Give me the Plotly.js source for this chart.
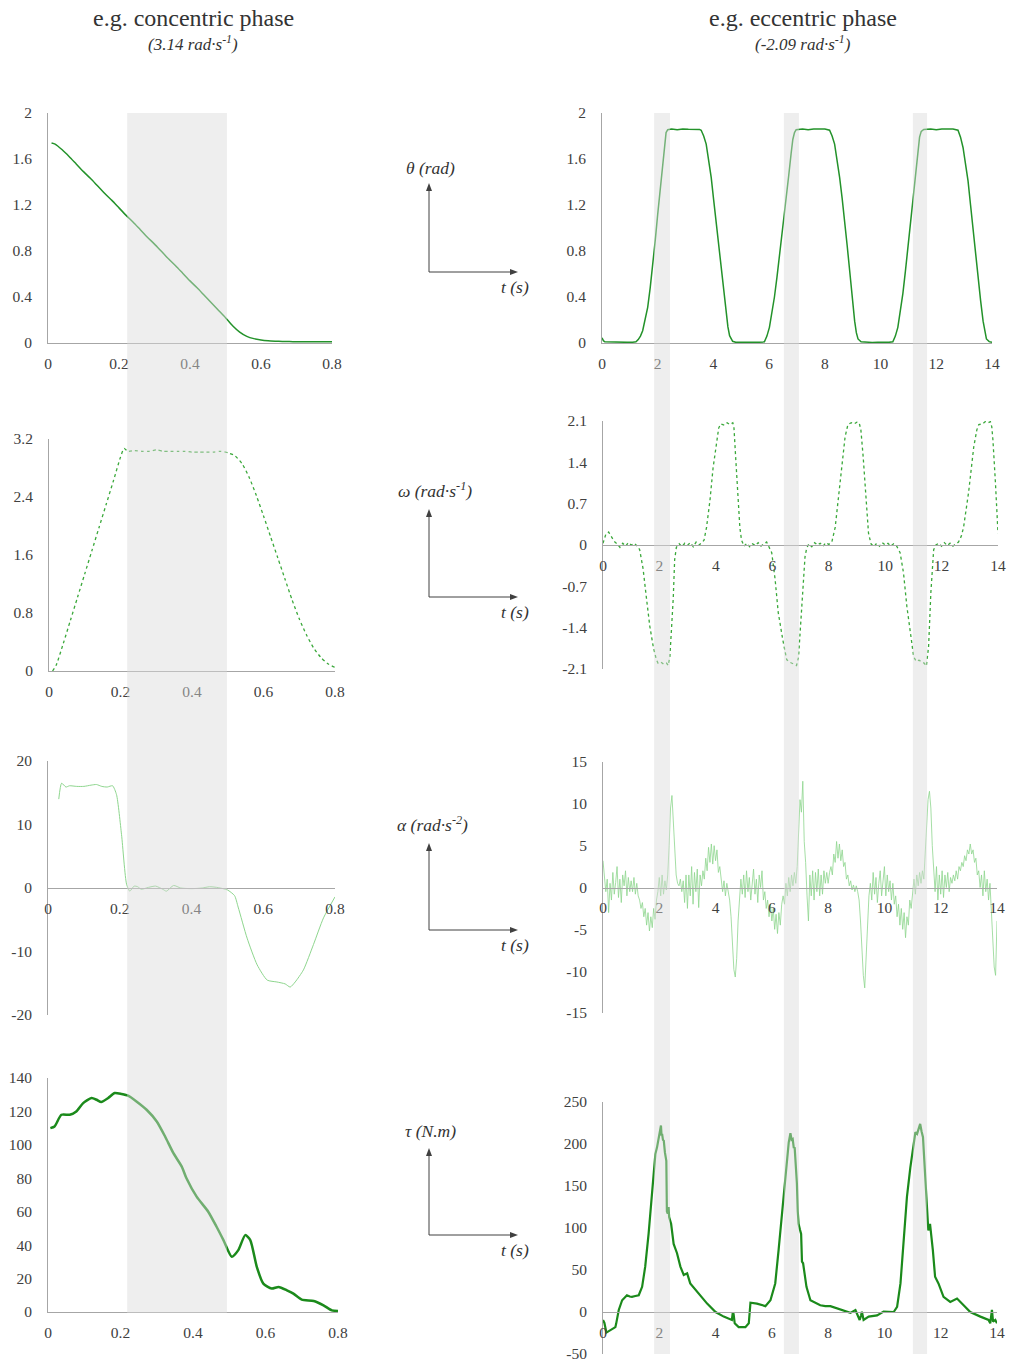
<!DOCTYPE html>
<html><head><meta charset="utf-8">
<script src="https://cdn.plot.ly/plotly-3.0.1.min.js"></script>
<style>html,body{margin:0;padding:0;background:#fff}#chart{width:1009px;height:1364px}</style>
</head><body><div id="chart"></div>
<script>
// ---------------- DATA ----------------
// concentric phase (t in s)
const thetaConc = [[0.01,1.74],[0.02,1.73],[0.04,1.68],[0.06,1.62],[0.08,1.555],[0.10,1.49],[0.12,1.43],[0.14,1.365],[0.16,1.30],[0.18,1.24],[0.20,1.175],[0.22,1.11],[0.24,1.05],[0.26,0.985],[0.28,0.92],[0.30,0.86],[0.32,0.795],[0.34,0.73],[0.36,0.67],[0.38,0.605],[0.40,0.54],[0.42,0.48],[0.44,0.415],[0.46,0.35],[0.48,0.285],[0.50,0.22],[0.52,0.15],[0.54,0.095],[0.56,0.058],[0.58,0.038],[0.60,0.027],[0.62,0.02],[0.64,0.016],[0.66,0.013],[0.68,0.012],[0.70,0.011],[0.72,0.011],[0.74,0.01],[0.76,0.01],[0.78,0.01],[0.80,0.011]];
const omegaConc = [[0.01,0.0],[0.02,0.08],[0.04,0.38],[0.06,0.7],[0.08,1.02],[0.10,1.34],[0.12,1.66],[0.14,1.98],[0.16,2.3],[0.18,2.62],[0.20,2.95],[0.21,3.07],[0.22,3.03],[0.24,3.04],[0.26,3.03],[0.28,3.03],[0.30,3.05],[0.32,3.03],[0.34,3.03],[0.36,3.03],[0.38,3.03],[0.40,3.02],[0.42,3.02],[0.44,3.02],[0.46,3.02],[0.48,3.03],[0.50,3.01],[0.52,2.97],[0.54,2.86],[0.56,2.67],[0.58,2.42],[0.60,2.14],[0.62,1.85],[0.64,1.56],[0.66,1.27],[0.68,0.98],[0.70,0.72],[0.72,0.5],[0.74,0.32],[0.76,0.19],[0.78,0.1],[0.80,0.05]];
const alphaConc = [[0.03,14.0],[0.038,16.5],[0.05,15.9],[0.06,16.1],[0.08,16.0],[0.10,16.0],[0.12,16.2],[0.135,16.3],[0.15,16.0],[0.165,15.9],[0.18,16.1],[0.191,14.7],[0.205,8.4],[0.219,0.6],[0.228,-0.5],[0.24,0.3],[0.25,0.2],[0.26,-0.2],[0.28,0.1],[0.30,0.3],[0.32,-0.2],[0.33,-0.5],[0.35,0.4],[0.37,0.0],[0.40,-0.1],[0.43,0.0],[0.45,0.2],[0.47,0.1],[0.50,-0.3],[0.52,-1.2],[0.53,-3.0],[0.555,-7.9],[0.583,-12.1],[0.611,-14.5],[0.638,-14.8],[0.661,-15.1],[0.675,-15.6],[0.689,-14.8],[0.712,-12.9],[0.74,-8.9],[0.768,-4.7],[0.80,-1.4]];
const torqueConc = [[0.0065,110],[0.018,111],[0.037,118],[0.06,118],[0.078,120],[0.097,125],[0.12,128],[0.134,127],[0.147,125.6],[0.166,128],[0.184,131],[0.203,130.4],[0.221,129.4],[0.244,126],[0.272,121],[0.30,114],[0.323,105],[0.346,95],[0.369,87],[0.382,80],[0.41,69],[0.442,60],[0.465,51],[0.484,43],[0.507,33],[0.525,37],[0.544,46],[0.558,43],[0.576,27],[0.594,17],[0.617,14],[0.636,15],[0.659,13],[0.677,11],[0.70,7.4],[0.733,6.6],[0.76,4],[0.783,1],[0.80,0.6]];

// eccentric phase (t in s)
const thetaEcc = [[0,0.045],[0.05,0.02],[0.1,0.01],[0.3,0.008],[0.5,0.006],[0.7,0.008],[0.9,0.006],[1.1,0.007],[1.22,0.01],[1.3,0.03],[1.38,0.06],[1.46,0.107],[1.55,0.2],[1.64,0.31],[1.73,0.48],[1.82,0.66],[1.91,0.89],[2.0,1.12],[2.09,1.34],[2.18,1.56],[2.24,1.72],[2.3,1.83],[2.36,1.855],[2.5,1.86],[2.7,1.855],[2.9,1.86],[3.1,1.858],[3.3,1.86],[3.5,1.857],[3.56,1.85],[3.65,1.8],[3.74,1.73],[3.83,1.6],[3.92,1.44],[4.01,1.24],[4.1,1.04],[4.19,0.84],[4.28,0.63],[4.37,0.44],[4.46,0.25],[4.52,0.14],[4.58,0.064],[4.64,0.03],[4.69,0.015],[4.8,0.006],[5.0,0.005],[5.2,0.006],[5.4,0.005],[5.6,0.006],[5.83,0.01],[5.92,0.06],[6.01,0.136],[6.1,0.26],[6.19,0.4],[6.28,0.57],[6.37,0.75],[6.49,1.0],[6.61,1.24],[6.7,1.45],[6.79,1.65],[6.85,1.77],[6.91,1.83],[6.97,1.855],[7.2,1.86],[7.4,1.855],[7.6,1.86],[7.8,1.857],[8.0,1.86],[8.17,1.85],[8.26,1.8],[8.35,1.73],[8.44,1.6],[8.53,1.44],[8.62,1.26],[8.71,1.07],[8.8,0.85],[8.89,0.63],[8.98,0.4],[9.07,0.19],[9.13,0.09],[9.19,0.035],[9.3,0.01],[9.5,0.006],[9.7,0.005],[9.9,0.006],[10.1,0.005],[10.3,0.006],[10.44,0.01],[10.53,0.06],[10.62,0.136],[10.71,0.27],[10.8,0.43],[10.89,0.62],[10.98,0.83],[11.07,1.05],[11.16,1.27],[11.25,1.48],[11.34,1.67],[11.4,1.79],[11.46,1.84],[11.55,1.857],[11.8,1.86],[12.0,1.855],[12.2,1.86],[12.4,1.857],[12.6,1.86],[12.78,1.85],[12.87,1.79],[12.96,1.7],[13.05,1.57],[13.14,1.41],[13.23,1.2],[13.32,0.98],[13.41,0.78],[13.5,0.57],[13.59,0.37],[13.68,0.19],[13.74,0.09],[13.8,0.035],[13.9,0.012],[14.0,0.006]];
const omegaEcc = [[0,0.03],[0.1,0.18],[0.2,0.22],[0.3,0.15],[0.4,0.06],[0.5,0.02],[0.6,-0.04],[0.7,0.03],[0.8,-0.02],[0.9,0.04],[1.0,0.0],[1.1,0.03],[1.2,-0.01],[1.3,-0.08],[1.42,-0.4],[1.54,-0.9],[1.66,-1.38],[1.78,-1.72],[1.89,-1.94],[1.95,-2.0],[2.05,-1.98],[2.15,-2.02],[2.25,-2.0],[2.31,-2.04],[2.37,-1.89],[2.43,-1.4],[2.49,-0.9],[2.54,-0.25],[2.6,-0.04],[2.7,0.02],[2.8,-0.03],[2.9,0.03],[3.0,0.0],[3.1,0.04],[3.2,-0.03],[3.3,0.05],[3.4,0.0],[3.5,0.04],[3.58,0.08],[3.67,0.3],[3.79,0.75],[3.9,1.3],[4.02,1.77],[4.1,1.98],[4.17,2.05],[4.3,2.03],[4.4,2.07],[4.5,2.04],[4.6,2.07],[4.64,2.0],[4.7,1.5],[4.79,0.76],[4.85,0.3],[4.91,0.08],[5.0,-0.02],[5.1,0.03],[5.2,-0.03],[5.3,0.02],[5.4,-0.01],[5.5,0.04],[5.6,-0.02],[5.7,0.02],[5.8,0.05],[5.88,-0.03],[5.98,-0.13],[6.1,-0.58],[6.21,-1.14],[6.37,-1.6],[6.51,-1.94],[6.6,-1.98],[6.7,-2.0],[6.8,-2.02],[6.86,-2.04],[6.93,-1.9],[7.0,-1.4],[7.08,-0.93],[7.16,-0.2],[7.22,-0.05],[7.3,0.02],[7.4,-0.03],[7.5,0.04],[7.6,0.0],[7.7,0.03],[7.8,-0.02],[7.9,0.04],[8.0,0.01],[8.11,0.05],[8.23,0.3],[8.34,0.75],[8.46,1.3],[8.58,1.83],[8.68,2.04],[8.8,2.07],[8.9,2.05],[9.0,2.08],[9.08,2.07],[9.14,1.95],[9.22,1.5],[9.29,1.05],[9.35,0.55],[9.41,0.2],[9.5,0.02],[9.6,-0.03],[9.7,0.03],[9.8,-0.02],[9.9,0.04],[10.0,0.0],[10.1,0.03],[10.2,-0.02],[10.3,0.02],[10.41,-0.02],[10.53,-0.13],[10.65,-0.47],[10.77,-1.04],[10.89,-1.49],[11.01,-1.89],[11.1,-1.97],[11.2,-1.95],[11.3,-1.98],[11.38,-2.0],[11.46,-2.05],[11.54,-1.72],[11.62,-0.81],[11.72,-0.08],[11.8,0.0],[11.9,0.03],[12.0,-0.02],[12.1,0.04],[12.2,-0.01],[12.3,0.03],[12.4,-0.02],[12.5,0.02],[12.6,0.05],[12.7,0.15],[12.78,0.3],[12.96,0.9],[13.14,1.66],[13.25,1.95],[13.32,2.04],[13.45,2.05],[13.55,2.09],[13.65,2.07],[13.73,2.09],[13.78,2.0],[13.82,1.78],[13.91,1.05],[14.0,0.2]];
const alphaEccT = [0,0.05,0.1,0.15,0.2,0.25,0.3,0.35,0.4,0.45,0.5,0.55,0.6,0.65,0.7,0.75,0.8,0.85,0.9,0.95,
 1,1.05,1.1,1.15,1.2,1.25,1.3,1.35,1.4,1.45,1.5,1.55,1.6,1.65,1.7,1.75,1.8,1.85,1.9,1.95,
 2,2.05,2.1,2.15,2.2,2.25,2.3,2.35,2.4,2.45,2.5,2.55,2.6,2.65,2.7,2.75,2.8,2.85,2.9,2.95,
 3,3.05,3.1,3.15,3.2,3.25,3.3,3.35,3.4,3.45,3.5,3.55,3.6,3.65,3.7,3.75,3.8,3.85,3.9,3.95,
 4,4.05,4.1,4.15,4.2,4.25,4.3,4.35,4.4,4.45,4.5,4.55,4.6,4.65,4.7,4.75,4.8,4.85,4.9,4.95,
 5,5.05,5.1,5.15,5.2,5.25,5.3,5.35,5.4,5.45,5.5,5.55,5.6,5.65,5.7,5.75,5.8,5.85,5.9,5.95,
 6,6.05,6.1,6.15,6.2,6.25,6.3,6.35,6.4,6.45,6.5,6.55,6.6,6.65,6.7,6.75,6.8,6.85,6.9,6.95,
 7,7.05,7.1,7.15,7.2,7.25,7.3,7.35,7.4,7.45,7.5,7.55,7.6,7.65,7.7,7.75,7.8,7.85,7.9,7.95,
 8,8.05,8.1,8.15,8.2,8.25,8.3,8.35,8.4,8.45,8.5,8.55,8.6,8.65,8.7,8.75,8.8,8.85,8.9,8.95,
 9,9.05,9.1,9.15,9.2,9.25,9.3,9.35,9.4,9.45,9.5,9.55,9.6,9.65,9.7,9.75,9.8,9.85,9.9,9.95,
 10,10.05,10.1,10.15,10.2,10.25,10.3,10.35,10.4,10.45,10.5,10.55,10.6,10.65,10.7,10.75,10.8,10.85,10.9,10.95,
 11,11.05,11.1,11.15,11.2,11.25,11.3,11.35,11.4,11.45,11.5,11.55,11.6,11.65,11.7,11.75,11.8,11.85,11.9,11.95,
 12,12.05,12.1,12.15,12.2,12.25,12.3,12.35,12.4,12.45,12.5,12.55,12.6,12.65,12.7,12.75,12.8,12.85,12.9,12.95,
 13,13.05,13.1,13.15,13.2,13.25,13.3,13.35,13.4,13.45,13.5,13.55,13.6,13.65,13.7,13.75,13.8,13.85,13.9,13.95,14];
const alphaEccV = [3.2,1.5,-0.5,1.0,-3.0,0.5,-1.5,1.8,-0.8,0.6,2.5,-1.2,1.0,-1.8,1.5,0.2,2.0,-1.0,1.2,-0.5,
 0.8,-0.5,1.2,-0.8,0.5,-1.0,-1.5,-2.5,-1.8,-3.5,-2.5,-4.5,-3.0,-5.2,-3.5,-4.8,-2.5,-3.8,-1.5,-0.5,
 1.2,-1.0,1.5,-0.8,0.8,-0.3,1.5,5.0,9.5,11.0,8.0,3.5,1.5,0.5,0.2,1.0,-0.5,0.8,-1.8,1.5,
 -2.5,1.5,-1.0,2.5,-2.0,1.8,-0.5,2.2,-2.4,1.5,0.2,2.0,1.0,3.5,2.0,4.8,3.0,5.2,2.8,5.0,
 3.2,4.5,1.8,2.5,0.5,-0.5,0.8,-1.0,0.5,-0.3,-1.5,-3.5,-7.0,-9.8,-10.7,-8.5,-4.0,-1.0,1.0,-0.8,
 1.5,-1.2,2.0,-0.5,1.2,-1.5,0.8,2.2,-0.8,1.0,-1.8,1.5,0.0,2.0,-1.5,-0.5,-2.5,-1.5,-3.5,-2.0,
 -4.0,-2.5,-5.0,-3.2,-5.5,-3.0,-4.5,-2.0,-1.0,-2.0,0.5,-1.0,1.2,-0.5,1.5,0.2,1.8,0.5,2.5,6.0,
 10.5,9.0,12.7,5.5,3.0,-1.0,-4.0,1.5,-1.0,2.0,-1.5,1.8,-0.5,2.2,-1.0,1.5,-0.8,2.0,0.5,1.8,
 0.5,1.8,2.5,1.5,4.0,3.0,5.5,3.5,5.2,3.2,4.5,2.5,3.0,1.0,1.5,0.2,0.8,-0.3,0.3,-0.5,
 0.2,-0.5,-1.5,-4.0,-8.0,-10.5,-12.0,-8.0,-3.5,-1.0,0.5,-1.5,1.8,-0.8,1.2,-1.8,0.5,2.0,-1.0,1.0,
 2.5,-1.0,1.5,-0.5,0.8,-1.5,0.5,-2.0,-1.0,-3.5,-2.0,-4.5,-2.5,-5.0,-3.0,-6.0,-3.5,-4.5,-1.5,-2.5,
 -0.5,1.0,-0.8,1.5,0.2,1.8,0.5,2.0,1.0,4.0,8.5,10.5,11.5,9.5,5.0,2.0,-0.5,2.5,-1.5,1.5,
 -0.8,2.0,-1.2,1.5,0.0,1.8,-0.5,1.2,0.5,1.5,0.8,2.0,1.0,2.5,2.0,3.0,2.5,3.8,3.2,4.5,
 4.0,5.2,4.0,4.5,3.0,3.5,1.5,2.0,0.0,1.5,-1.0,2.0,-0.5,1.0,-1.5,0.5,-2.5,-6.0,-9.5,-10.5,-4.0];
const torqueEcc = [[0,-9.5],[0.05,-13],[0.12,-24.5],[0.26,-22],[0.44,-18],[0.47,-13.5],[0.56,2.4],[0.68,14],[0.85,20],[0.95,18.5],[1.03,18],[1.15,19],[1.27,20],[1.39,30],[1.5,54],[1.62,93],[1.74,141],[1.8,165],[1.86,188],[1.92,196],[1.98,208],[2.02,215],[2.06,222],[2.08,210],[2.1,212],[2.13,205],[2.16,204],[2.2,190],[2.25,180],[2.27,120],[2.3,117],[2.33,125],[2.35,113],[2.42,105],[2.51,81],[2.63,70],[2.75,54],[2.87,44],[2.99,46],[3.1,34],[3.34,24],[3.7,10],[4.0,0],[4.29,-5.5],[4.58,-9.5],[4.61,-1],[4.64,-2.4],[4.68,-13.5],[4.82,-18],[5.06,-18],[5.18,-13.5],[5.24,11],[5.47,10],[5.77,7],[5.95,14],[6.12,34],[6.24,74],[6.36,117],[6.48,161],[6.6,202],[6.66,213],[6.7,205],[6.74,206],[6.78,195],[6.81,196],[6.85,175],[6.89,153],[6.92,120],[6.95,105],[7.0,98],[7.04,93],[7.07,60],[7.11,58],[7.23,30],[7.37,14],[7.72,8],[7.9,7],[8.08,7],[8.43,3],[8.79,-1],[8.97,2.4],[9.03,-1.6],[9.12,-9.5],[9.17,-4],[9.2,0.4],[9.26,-9.5],[9.44,-5.5],[9.74,-4],[9.97,0.4],[10.33,0],[10.45,6],[10.57,34],[10.68,89],[10.8,137],[10.92,172],[11.04,204],[11.1,214],[11.16,212],[11.22,220],[11.27,224],[11.32,215],[11.37,208],[11.45,161],[11.51,129],[11.56,97],[11.62,105],[11.67,90],[11.72,74],[11.8,42],[11.92,34],[12.1,18],[12.34,12],[12.58,16],[12.76,10],[13.05,0],[13.41,-5.5],[13.7,-9.5],[13.76,-13.5],[13.82,2.4],[13.86,-11.5],[13.94,-9.5],[14.0,-13.5]];

// shaded phases (s)
const bandsConc = [[0.223, 0.504]];
const bandsEcc = [[1.87, 2.44], [6.53, 7.07], [11.16, 11.67]];

// tick values
const ticksConcX = [0, 0.2, 0.4, 0.6, 0.8];
const ticksEccX = [0, 2, 4, 6, 8, 10, 12, 14];
const ticksTheta = [0, 0.4, 0.8, 1.2, 1.6, 2];
const ticksOmegaConc = [0, 0.8, 1.6, 2.4, 3.2];
const ticksAlphaConc = [-20, -10, 0, 10, 20];
const ticksTorqueConc = [0, 20, 40, 60, 80, 100, 120, 140];
const ticksOmegaEcc = [-2.1, -1.4, -0.7, 0, 0.7, 1.4, 2.1];
const ticksAlphaEcc = [-15, -10, -5, 0, 5, 10, 15];
const ticksTorqueEcc = [-50, 0, 50, 100, 150, 200, 250];

const colTitles = ['e.g. concentric phase', 'e.g. eccentric phase'];
const colSubs = ['(3.14 rad·s<sup>-1</sup>)', '(-2.09 rad·s<sup>-1</sup>)'];
const rowLabels = ['θ (rad)', 'ω (rad·s<sup>-1</sup>)', 'α (rad·s<sup>-2</sup>)', 'τ (N.m)'];

// ---------------- LAYOUT ----------------
const W = 1009, H = 1364;
const px = x => x / W, py = y => 1 - y / H;
const FONT = '"Liberation Serif", "Times New Roman", serif';
const tickFont = {family: FONT, size: 15.5, color: '#404040'};
const AX = '#a6a6a6';

// pixel boxes [left, right, top, bottom]
const boxes = [
  [48, 332, 113, 343], [49, 335, 439, 671], [48, 335, 761, 1015], [48, 338, 1078, 1312],
  [602, 992, 113, 343], [603, 998, 421, 669], [603, 997, 762, 1013], [603, 997, 1102, 1354]
];
const xr = [[0,0.8],[0,0.8],[0,0.8],[0,0.8],[0,14],[0,14],[0,14],[0,14]];
const yr = [[0,2],[0,3.2],[-20,20],[0,140],[0,2],[-2.1,2.1],[-15,15],[-50,250]];
const xt = [ticksConcX,ticksConcX,ticksConcX,ticksConcX,ticksEccX,ticksEccX,ticksEccX,ticksEccX];
const yt = [ticksTheta,ticksOmegaConc,ticksAlphaConc,ticksTorqueConc,ticksTheta,ticksOmegaEcc,ticksAlphaEcc,ticksTorqueEcc];

const layout = {
  width: W, height: H, margin: {l:0, r:0, t:0, b:0},
  paper_bgcolor: '#fff', plot_bgcolor: 'rgba(0,0,0,0)',
  showlegend: false, font: {family: FONT, color: '#333'},
  shapes: [], annotations: []
};

for (let i = 0; i < 8; i++) {
  const n = i + 1, sfx = n === 1 ? '' : String(n);
  const [l, r, t, b] = boxes[i];
  const [y0, y1] = yr[i];
  const zeroPx = t + (y1 - 0) / (y1 - y0) * (b - t);
  const atBottom = y0 === 0;
  const xa = {
    domain: [px(l), px(r)], range: xr[i],
    anchor: atBottom ? 'y' + sfx : 'free',
    showline: true, linecolor: AX, linewidth: 1, showgrid: false, zeroline: false,
    ticks: '', tickvals: xt[i], ticktext: xt[i].map(String), tickfont: tickFont,
    ticklabelstandoff: 6, fixedrange: true
  };
  if (!atBottom) xa.position = py(zeroPx);
  layout['xaxis' + sfx] = xa;
  layout['yaxis' + sfx] = {
    domain: [py(b), py(t)], range: yr[i], anchor: 'x' + sfx,
    showline: true, linecolor: AX, linewidth: 1, showgrid: false, zeroline: false,
    ticks: '', tickvals: yt[i], ticktext: yt[i].map(String), tickfont: tickFont,
    ticklabelstandoff: 12, fixedrange: true
  };
}

// shaded bands (above, semi-transparent)
const bandStyle = {type:'rect', yref:'paper', fillcolor:'#d9d9d9', opacity:0.45, line:{width:0}, layer:'above'};
bandsConc.forEach(([a, c]) => layout.shapes.push(Object.assign({}, bandStyle, {xref:'x', x0:a, x1:c, y0:py(1313), y1:py(113)})));
bandsEcc.forEach(([a, c]) => layout.shapes.push(Object.assign({}, bandStyle, {xref:'x5', x0:a, x1:c, y0:py(1354), y1:py(113)})));

// column titles
[[193, 0], [803, 1]].forEach(([cx, k]) => {
  layout.annotations.push({xref:'paper', yref:'paper', x:px(cx), y:py(18), xanchor:'center', yanchor:'middle', showarrow:false, text:colTitles[k], font:{family:FONT, size:24, color:'#333'}});
  layout.annotations.push({xref:'paper', yref:'paper', x:px(cx), y:py(43), xanchor:'center', yanchor:'middle', showarrow:false, text:'<i>' + colSubs[k] + '</i>', font:{family:FONT, size:17, color:'#333'}});
});

// middle axis icons (lines + arrowheads as shapes)
const icons = [
  {top:183, bot:272, ly:168, lx:430},
  {top:509, bot:597, ly:490, lx:435},
  {top:843, bot:930, ly:824, lx:432},
  {top:1148, bot:1235, ly:1131, lx:430}
];
const ICON = '#404040', VX = 429, HX = 518;
icons.forEach((ic, k) => {
  layout.shapes.push({type:'line', xref:'paper', yref:'paper', x0:px(VX), x1:px(VX), y0:py(ic.bot), y1:py(ic.top + 6), line:{color:ICON, width:1}});
  layout.shapes.push({type:'line', xref:'paper', yref:'paper', x0:px(VX), x1:px(HX - 6), y0:py(ic.bot), y1:py(ic.bot), line:{color:ICON, width:1}});
  layout.shapes.push({type:'path', xref:'paper', yref:'paper', fillcolor:ICON, line:{width:0},
    path:`M ${px(VX)} ${py(ic.top)} L ${px(VX - 3)} ${py(ic.top + 8)} L ${px(VX + 3)} ${py(ic.top + 8)} Z`});
  layout.shapes.push({type:'path', xref:'paper', yref:'paper', fillcolor:ICON, line:{width:0},
    path:`M ${px(HX)} ${py(ic.bot)} L ${px(HX - 8)} ${py(ic.bot - 3)} L ${px(HX - 8)} ${py(ic.bot + 3)} Z`});
  layout.annotations.push({xref:'paper', yref:'paper', x:px(ic.lx), y:py(ic.ly), xanchor:'center', yanchor:'middle', showarrow:false, text:'<i>' + rowLabels[k] + '</i>', font:{family:FONT, size:17.5, color:'#333'}});
  layout.annotations.push({xref:'paper', yref:'paper', x:px(515), y:py(ic.bot + 15), xanchor:'center', yanchor:'middle', showarrow:false, text:'<i>t (s)</i>', font:{family:FONT, size:17.5, color:'#333'}});
});

// ---------------- TRACES ----------------
const C_THETA = '#23922a', C_OMEGA = '#3aa83a', C_ALPHA = '#8ed68e', C_TORQUE = '#1b8a1b';
function tr(pairs, n, line) {
  const sfx = n === 1 ? '' : String(n);
  return {type:'scatter', mode:'lines', x:pairs.map(p => p[0]), y:pairs.map(p => p[1]), xaxis:'x' + sfx, yaxis:'y' + sfx, line:line, hoverinfo:'skip'};
}
const data = [
  tr(thetaConc, 1, {color:C_THETA, width:1.5, shape:'spline', smoothing:0.6}),
  tr(omegaConc, 2, {color:C_OMEGA, width:1.3, dash:'dot', shape:'spline', smoothing:0.6}),
  tr(alphaConc, 3, {color:C_ALPHA, width:1, shape:'spline', smoothing:0.6}),
  tr(torqueConc, 4, {color:C_TORQUE, width:2.5, shape:'spline', smoothing:0.6}),
  tr(thetaEcc, 5, {color:C_THETA, width:1.5}),
  tr(omegaEcc, 6, {color:C_OMEGA, width:1.3, dash:'dot'}),
  {type:'scatter', mode:'lines', x:alphaEccT, y:alphaEccV, xaxis:'x7', yaxis:'y7', line:{color:C_ALPHA, width:0.8}, hoverinfo:'skip'},
  tr(torqueEcc, 8, {color:C_TORQUE, width:2.2})
];

Plotly.newPlot('chart', data, layout, {staticPlot:true, displayModeBar:false});
</script>
</body></html>
